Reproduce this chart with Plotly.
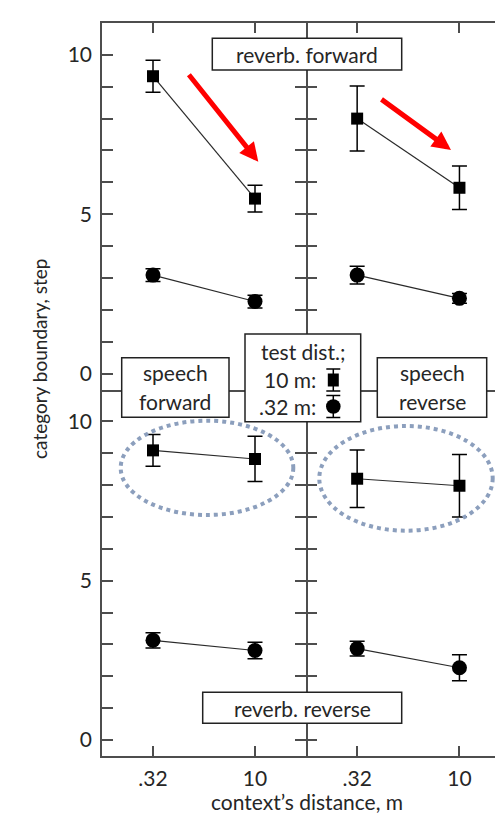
import plotly.graph_objects as go
from plotly.subplots import make_subplots

# ---------------- data ----------------
categories = ['.32', '10']          # context's distance, m
xpos = [0, 1]

# reverb. forward (top row)
rf_sf_10m = [9.33, 5.49]; rf_sf_10m_err = [0.50, 0.42]
rf_sf_032 = [3.09, 2.26]; rf_sf_032_err = [0.20, 0.20]
rf_sr_10m = [8.00, 5.83]; rf_sr_10m_err = [1.02, 0.68]
rf_sr_032 = [3.09, 2.36]; rf_sr_032_err = [0.28, 0.15]

# reverb. reverse (bottom row)
rr_sf_10m = [9.09, 8.82]; rr_sf_10m_err = [0.50, 0.71]
rr_sf_032 = [3.13, 2.81]; rr_sf_032_err = [0.24, 0.26]
rr_sr_10m = [8.20, 7.98]; rr_sr_10m_err = [0.90, 0.98]
rr_sr_032 = [2.87, 2.27]; rr_sr_032_err = [0.23, 0.41]

ytick_vals = list(range(0, 11))
ytick_text = ['0', '', '', '', '', '5', '', '', '', '', '10']

FONT = 'Lato'
TXT = '#262626'
AX = '#4d4d4d'

# ---------------- geometry helpers (plot area in px) ----------------
W, H = 495, 815
L, R, T, B = 102, 495, 23, 756
PW, PH = R - L, B - T


def px(x):
    return (x - L) / PW


def py(y):
    return (B - y) / PH


fig = make_subplots(rows=2, cols=2, horizontal_spacing=0, vertical_spacing=0)

panels = [
    (1, 1, rf_sf_10m, rf_sf_10m_err, rf_sf_032, rf_sf_032_err),
    (1, 2, rf_sr_10m, rf_sr_10m_err, rf_sr_032, rf_sr_032_err),
    (2, 1, rr_sf_10m, rr_sf_10m_err, rr_sf_032, rr_sf_032_err),
    (2, 2, rr_sr_10m, rr_sr_10m_err, rr_sr_032, rr_sr_032_err),
]
for r, c, sq, sqe, ci, cie in panels:
    fig.add_trace(go.Scatter(
        x=xpos, y=sq, mode='lines+markers',
        line=dict(color='#2a2a2a', width=1.2),
        marker=dict(symbol='square', size=12, color='black'),
        error_y=dict(type='data', array=sqe, color='black', thickness=1.5, width=7.5),
        showlegend=False, cliponaxis=False), row=r, col=c)
    fig.add_trace(go.Scatter(
        x=xpos, y=ci, mode='lines+markers',
        line=dict(color='#2a2a2a', width=1.2),
        marker=dict(symbol='circle', size=15, color='black'),
        error_y=dict(type='data', array=cie, color='black', thickness=1.5, width=7.5),
        showlegend=False, cliponaxis=False), row=r, col=c)

xsplit = (306 - L) / PW
xr_right = [-0.5, -0.5 + (R - 306) / 102.3]
# x axes
common_x = dict(tickvals=xpos, ticks='inside', ticklen=10, tickwidth=1.5, tickcolor=AX,
                showline=True, linecolor=AX, linewidth=1.5,
                showgrid=False, zeroline=False)
fig.update_layout(
    xaxis=dict(domain=[0, xsplit], range=[-0.5, 1.5], side='top', showticklabels=False,
               mirror=True, **common_x),
    xaxis2=dict(domain=[xsplit, 1], range=xr_right, side='top',
                showticklabels=False, mirror=True, **common_x),
    xaxis3=dict(domain=[0, xsplit], range=[-0.5, 1.5], ticktext=categories, mirror=False,
                ticklabelstandoff=3,
                tickfont=dict(family=FONT, size=21, color=TXT), **common_x),
    xaxis4=dict(domain=[xsplit, 1], range=xr_right, ticktext=categories, mirror=False,
                ticklabelstandoff=3,
                tickfont=dict(family=FONT, size=21, color=TXT), **common_x),
)
common_y = dict(range=[-0.5, 11], tickvals=ytick_vals, ticks='inside', ticklen=11,
                tickwidth=1.5, tickcolor=AX, linecolor=AX, linewidth=1.5,
                showgrid=False, zeroline=False)
fig.update_layout(
    yaxis=dict(domain=[0.5, 1], ticktext=ytick_text, mirror='ticks', showline=True,
               ticklabelstandoff=4,
               tickfont=dict(family=FONT, size=21, color=TXT), **common_y),
    yaxis2=dict(domain=[0.5, 1], showticklabels=False, mirror=False, showline=False, **common_y),
    yaxis3=dict(domain=[0, 0.5], ticktext=ytick_text, mirror='ticks', showline=True,
                ticklabelstandoff=4,
                tickfont=dict(family=FONT, size=21, color=TXT), **common_y),
    yaxis4=dict(domain=[0, 0.5], showticklabels=False, mirror=False, showline=False, **common_y),
)

shapes = []
annots = []


def box(x0, y0, x1, y1):
    shapes.append(dict(type='rect', xref='paper', yref='paper', layer='above',
                       x0=px(x0), x1=px(x1), y0=py(y1), y1=py(y0),
                       fillcolor='white', line=dict(color='#222222', width=1.5)))


def text(t, x, y, xanchor='center', size=21):
    annots.append(dict(text=t, xref='paper', yref='paper', x=px(x), y=py(y),
                       xanchor=xanchor, yanchor='middle', showarrow=False,
                       font=dict(family=FONT, size=size, color=TXT)))


# dotted ellipses
for x0, y0, x1, y1 in [(120.7, 420.7, 293.3, 515.0), (319.3, 426.0, 492.7, 530.7)]:
    shapes.append(dict(type='circle', xref='paper', yref='paper', layer='above',
                       x0=px(x0), x1=px(x1), y0=py(y1), y1=py(y0),
                       line=dict(color='#8c9fbd', width=4, dash='dot')))

box(212.3, 38.3, 401.7, 70.0); text('reverb. forward', 307, 54.5)
box(202.7, 692.3, 401.7, 723.3); text('reverb. reverse', 302, 708)
box(121.7, 357.7, 229.0, 417.3); text('speech', 175.3, 373); text('forward', 175.3, 401.5)
box(377.3, 357.7, 486.7, 417.3); text('speech', 432, 373); text('reverse', 432, 401.5)
box(245.0, 334.0, 360.7, 421.7)
text('test dist.;', 302.8, 351.5)
text('10 m:', 318, 379.5, xanchor='right')
text('.32 m:', 318, 406.5, xanchor='right')

# legend glyphs (square and circle with error bars)
lx = 333.3
for cy, kind in [(380.0, 'square'), (406.5, 'circle')]:
    shapes.append(dict(type='line', xref='paper', yref='paper', layer='above',
                       x0=px(lx), x1=px(lx), y0=py(cy - 11), y1=py(cy + 11),
                       line=dict(color='black', width=1.5)))
    for dy in (-11, 11):
        shapes.append(dict(type='line', xref='paper', yref='paper', layer='above',
                           x0=px(lx - 7), x1=px(lx + 7), y0=py(cy + dy), y1=py(cy + dy),
                           line=dict(color='black', width=1.5)))
    if kind == 'square':
        shapes.append(dict(type='rect', xref='paper', yref='paper', layer='above',
                           x0=px(lx - 5.5), x1=px(lx + 5.5), y0=py(cy + 6.5), y1=py(cy - 6.5),
                           fillcolor='black', line=dict(width=0)))
    else:
        shapes.append(dict(type='circle', xref='paper', yref='paper', layer='above',
                           x0=px(lx - 7.3), x1=px(lx + 7.3), y0=py(cy + 7.3), y1=py(cy - 7.3),
                           fillcolor='black', line=dict(width=0)))

# red arrows
for tail, tip in [((187.7, 73.3), (258.3, 161.7)), ((380.0, 98.3), (451.0, 150.0))]:
    annots.append(dict(text='', xref='paper', yref='paper', x=px(tip[0]), y=py(tip[1]),
                       ax=tail[0] - tip[0], ay=tail[1] - tip[1], showarrow=True,
                       arrowcolor='#ff0000', arrowwidth=5, arrowhead=2, arrowsize=0.75,
                       standoff=0, startstandoff=0))

# axis titles
annots.append(dict(text='category boundary, step', xref='paper', yref='paper',
                   x=px(39), y=py(359), textangle=-90, showarrow=False,
                   xanchor='center', yanchor='middle',
                   font=dict(family=FONT, size=19, color=TXT)))
annots.append(dict(text='context\u2019s distance, m', xref='paper', yref='paper',
                   x=px(306.7), y=py(801), showarrow=False, xanchor='center', yanchor='middle',
                   font=dict(family=FONT, size=21, color=TXT)))

fig.update_layout(
    width=W, height=H, margin=dict(l=L, r=W - R, t=T, b=H - B),
    paper_bgcolor='white', plot_bgcolor='white', showlegend=False,
    shapes=shapes, annotations=annots,
    font=dict(family=FONT, color=TXT),
)

fig.write_html('out.html')
